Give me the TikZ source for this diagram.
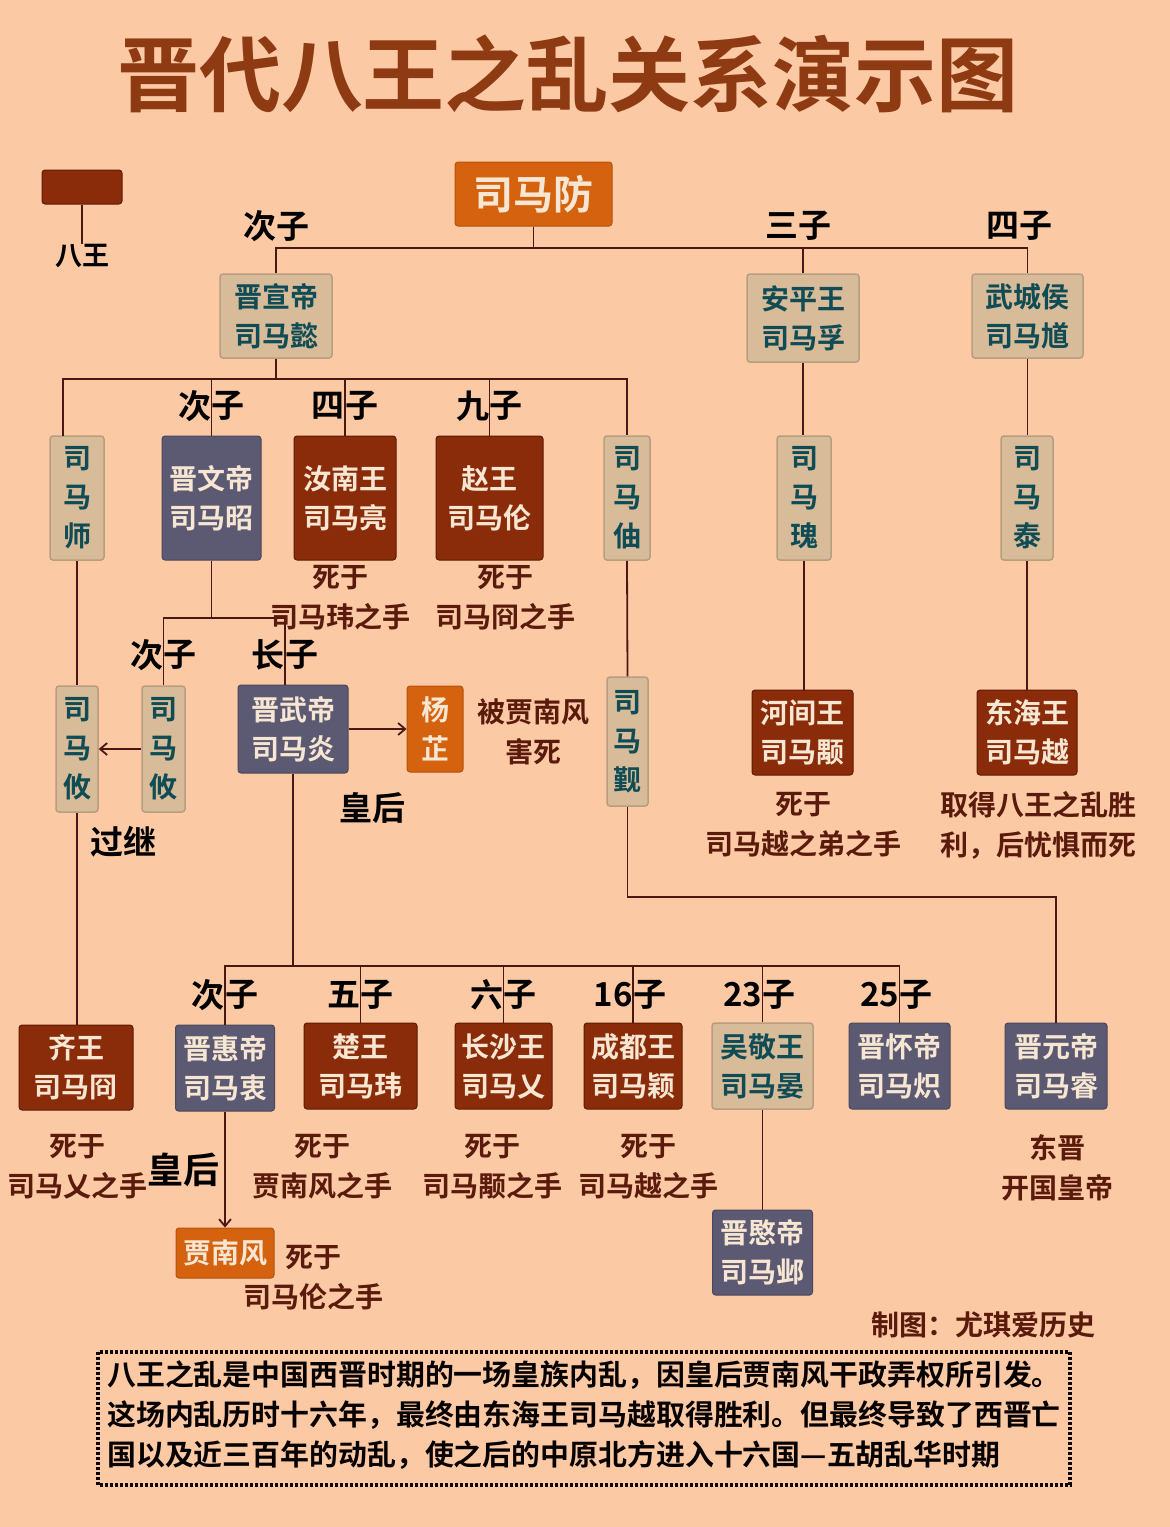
\documentclass[tikz,border=0pt]{standalone}
\usepackage{fontspec}
\setmainfont{Noto Sans CJK SC}[BoldFont={Noto Sans CJK SC Bold}]
\usetikzlibrary{arrows.meta}
\definecolor{bg}{HTML}{FCC9A5}
\definecolor{dbrown}{HTML}{8A2C0A}
\definecolor{dbrownd}{HTML}{5C1C06}
\definecolor{orng}{HTML}{D4620F}
\definecolor{slate}{HTML}{5C5A72}
\definecolor{tanb}{HTML}{D8BB98}
\definecolor{tand}{HTML}{B89E80}
\definecolor{tealt}{HTML}{0F4C55}
\definecolor{cream}{HTML}{F6E6D2}
\definecolor{ln}{HTML}{4A1812}
\definecolor{note}{HTML}{5A1A0C}
\definecolor{ttl}{HTML}{8E3A12}
\tikzset{
  sz/.style 2 args={minimum width=#1pt, minimum height=#2pt},
  base/.style={rounded corners=3pt, inner sep=0pt, align=center, font=\bfseries\fontsize{28}{39}\selectfont},
  bwang/.style={base, fill=dbrown, draw=dbrownd, line width=1pt, text=cream},
  bemp/.style={base, fill=slate, draw=slate!80!black, line width=1pt, text=cream},
  bor/.style={base, fill=orng, draw=orng!85!black, line width=1pt, text=cream},
  btan/.style={base, fill=tanb, draw=tand, line width=1.5pt, text=tealt},
  lbl/.style={font=\bfseries\fontsize{33}{33}\selectfont, text=black, inner sep=0pt},
  nt/.style={font=\bfseries\fontsize{28}{40}\selectfont, text=note, align=center, inner sep=0pt},
  conn/.style={draw=ln, line width=1.8pt},
  arr/.style={conn, -{Straight Barb[length=7pt,width=12pt]}},
}
\begin{document}
\begin{tikzpicture}[x=1pt,y=-1pt]
\useasboundingbox (0,0) rectangle (1170,1527);
\fill[bg] (0,0) rectangle (1170,1527);

% title
\node[font=\bfseries\fontsize{82}{82}\selectfont, text=ttl, inner sep=0pt] (title) at (568,74) {晋代八王之乱关系演示图};

% legend
\node[bwang, sz={80}{34}] (legend) at (82,187) {};
\node[lbl, font=\bfseries\fontsize{27}{27}\selectfont] (bawang) at (82,256) {八王};
\draw[conn] (legend.south) -- (bawang.north);

% generation 1
\node[bor, sz={157}{64}, font=\bfseries\fontsize{40}{40}\selectfont] (fang) at (533.5,194) {司马防};
% generation 2
\node[btan, sz={112}{84}] (xuandi) at (276,316) {晋宣帝\\司马懿};
\node[btan, sz={112}{88}] (anping) at (803,318) {安平王\\司马孚};
\node[btan, sz={111}{84}] (wucheng) at (1027.5,316) {武城侯\\司马馗};
% generation 3
\node[btan, sz={54}{124}] (shi) at (77,498) {司\\马\\师};
\node[bemp, sz={99}{124}] (wendi) at (211.5,498) {晋文帝\\司马昭};
\node[bwang, sz={102}{124}] (runan) at (345,498) {汝南王\\司马亮};
\node[bwang, sz={107}{124}] (zhao) at (489.5,498) {赵王\\司马伦};
\node[btan, sz={46}{124}] (zhou) at (627,498) {司\\马\\伷};
\node[btan, sz={54}{124}] (gui) at (804,498) {司\\马\\瑰};
\node[btan, sz={52}{124}] (tai) at (1027,498) {司\\马\\泰};
% generation 4
\node[btan, sz={42}{126}] (youL) at (77,749) {司\\马\\攸};
\node[btan, sz={43}{126}] (youR) at (163.5,749) {司\\马\\攸};
\node[bemp, sz={110}{88}] (wudi) at (293,729) {晋武帝\\司马炎};
\node[bor, sz={56}{86}] (yang) at (435,729) {杨\\芷};
\node[btan, sz={41}{129}] (jin) at (627.5,741.5) {司\\马\\觐};
\node[bwang, sz={101}{85}] (hejian) at (802.5,732.5) {河间王\\司马颙};
\node[bwang, sz={100}{85}] (donghai) at (1027,732.5) {东海王\\司马越};
% generation 5
\node[bwang, sz={114}{85}] (qi) at (76,1067.5) {齐王\\司马冏};
\node[bemp, sz={99}{86}] (huidi) at (225,1068) {晋惠帝\\司马衷};
\node[bwang, sz={113}{86}] (chu) at (360.5,1066) {楚王\\司马玮};
\node[bwang, sz={97}{86}] (changsha) at (503.5,1066) {长沙王\\司马乂};
\node[bwang, sz={98}{86}] (chengdu) at (633,1066) {成都王\\司马颖};
\node[btan, sz={101}{86}] (wujing) at (762.5,1066) {吴敬王\\司马晏};
\node[bemp, sz={101}{86}] (huaidi) at (899.5,1066) {晋怀帝\\司马炽};
\node[bemp, sz={102}{86}] (yuandi) at (1056,1066) {晋元帝\\司马睿};
\node[bor, sz={98}{50}] (jia) at (225,1253) {贾南风};
\node[bemp, sz={100}{85}] (mindi) at (762.5,1252.5) {晋愍帝\\司马邺};

% connectors
\coordinate (bus1) at (533.5,248);
\draw[conn] (fang.south) -- (bus1);
\draw[conn] (xuandi.north) |- (bus1) -| (wucheng.north);
\draw[conn] (anping.north) -- (anping.north |- bus1);

\coordinate (bus2) at (276,379);
\coordinate (shiTop) at (63,436);
\draw[conn] (xuandi.south) -- (bus2);
\draw[conn] (shiTop) |- (bus2) -| (zhou.north);
\draw[conn] (wendi.north) -- (wendi.north |- bus2);
\draw[conn] (runan.north) -- (runan.north |- bus2);
\draw[conn] (zhao.north) -- (zhao.north |- bus2);

\draw[conn] (shi.south) -- (youL.north);
\draw[conn] (youL.south) -- (youL.south |- qi.north);

\coordinate (bus3) at (211.5,618);
\coordinate (wuTop) at (285,685);
\draw[conn] (wendi.south) -- (bus3);
\draw[conn] (youR.north) |- (bus3);
\draw[conn] (wuTop) |- (bus3);
\draw[arr] (youR.west) -- (youL.east);
\draw[arr] (wudi.east) -- (yang.west);

\coordinate (bus4) at (293,966);
\draw[conn] (wudi.south) -- (bus4);
\draw[conn] (huidi.north) |- (bus4) -| (huaidi.north);
\draw[conn] (chu.north) -- (chu.north |- bus4);
\draw[conn] (changsha.north) -- (changsha.north |- bus4);
\draw[conn] (chengdu.north) -- (chengdu.north |- bus4);
\draw[conn] (wujing.north) -- (wujing.north |- bus4);
\draw[arr] (huidi.south) -- (jia.north);
\draw[conn] (wujing.south) -- (mindi.north);

\coordinate (bus5) at (627.5,897);
\draw[conn] (zhou.south) -- (jin.north);
\draw[conn] (jin.south) -- (bus5) -| (yuandi.north);

\draw[conn] (anping.south) -- (anping.south |- gui.north);
\draw[conn] (gui.south) -- (gui.south |- hejian.north);
\draw[conn] (wucheng.south) -- (wucheng.south |- tai.north);
\draw[conn] (tai.south) -- (tai.south |- donghai.north);

% relation labels
\node[lbl] (l1) at (276,226) {次子};
\node[lbl] (l2) at (798,226) {三子};
\node[lbl] (l3) at (1019,226) {四子};
\node[lbl, anchor=east] (l4a) at (211.5,406) {次};
\node[lbl, anchor=west] (l4b) at (211.5,406) {子};
\node[lbl, anchor=east] (l5a) at (345,406) {四};
\node[lbl, anchor=west] (l5b) at (345,406) {子};
\node[lbl, anchor=east] (l6a) at (489.5,406) {九};
\node[lbl, anchor=west] (l6b) at (489.5,406) {子};
\node[lbl, anchor=east] (l7a) at (163.5,655) {次};
\node[lbl, anchor=west] (l7b) at (163.5,655) {子};
\node[lbl, anchor=east] (l8a) at (285,655) {长};
\node[lbl, anchor=west] (l8b) at (285,655) {子};
\node[lbl, anchor=east] (l9a) at (225,995) {次};
\node[lbl, anchor=west] (l9b) at (225,995) {子};
\node[lbl, anchor=east] (l10a) at (360.5,995) {五};
\node[lbl, anchor=west] (l10b) at (360.5,995) {子};
\node[lbl, anchor=east] (l11a) at (503.5,995) {六};
\node[lbl, anchor=west] (l11b) at (503.5,995) {子};
\node[lbl, anchor=east] (l12a) at (633,995) {16};
\node[lbl, anchor=west] (l12b) at (633,995) {子};
\node[lbl, anchor=east] (l13a) at (762.5,995) {23};
\node[lbl, anchor=west] (l13b) at (762.5,995) {子};
\node[lbl, anchor=east] (l14a) at (899.5,995) {25};
\node[lbl, anchor=west] (l14b) at (899.5,995) {子};
\node[lbl] (guoji) at (123,842) {过继};
\node[lbl] (hh1) at (372,808) {皇后};
\node[lbl, font=\bfseries\fontsize{36}{36}\selectfont] (hh2) at (183,1170) {皇后};

% notes
\node[nt] (n1) at (340,598) {死于\\司马玮之手};
\node[nt] (n2) at (505,598) {死于\\司马冏之手};
\node[nt] (n3) at (533,732) {被贾南风\\害死};
\node[nt] (n4) at (803,825) {死于\\司马越之弟之手};
\node[nt, align=left] (n5) at (1038,825) {取得八王之乱胜\\利，后忧惧而死};
\node[nt] (n6) at (78,1167) {死于\\司马乂之手};
\node[nt] (n7) at (322,1167) {死于\\贾南风之手};
\node[nt] (n8) at (492,1167) {死于\\司马颙之手};
\node[nt] (n9) at (648,1167) {死于\\司马越之手};
\node[nt] (n10) at (313,1278) {死于\\司马伦之手};
\node[nt] (n11) at (1057,1168) {东晋\\开国皇帝};
\node[nt, font=\bfseries\fontsize{28}{28}\selectfont] (credit) at (983,1325) {制图：尤琪爱历史};

% summary box
\draw[draw=black!85!ln, line width=3.2pt, dash pattern=on 3pt off 2pt] (98,1352) rectangle (1070,1485);
\node[anchor=north west, inner sep=0pt, align=left, text=black!90!ln, font=\bfseries\fontsize{28.9}{40}\selectfont] (summary) at (107,1360) {八王之乱是中国西晋时期的一场皇族内乱，因皇后贾南风干政弄权所引发。\\这场内乱历时十六年，最终由东海王司马越取得胜利。但最终导致了西晋亡\\国以及近三百年的动乱，使之后的中原北方进入十六国—五胡乱华时期};
\end{tikzpicture}
\end{document}
